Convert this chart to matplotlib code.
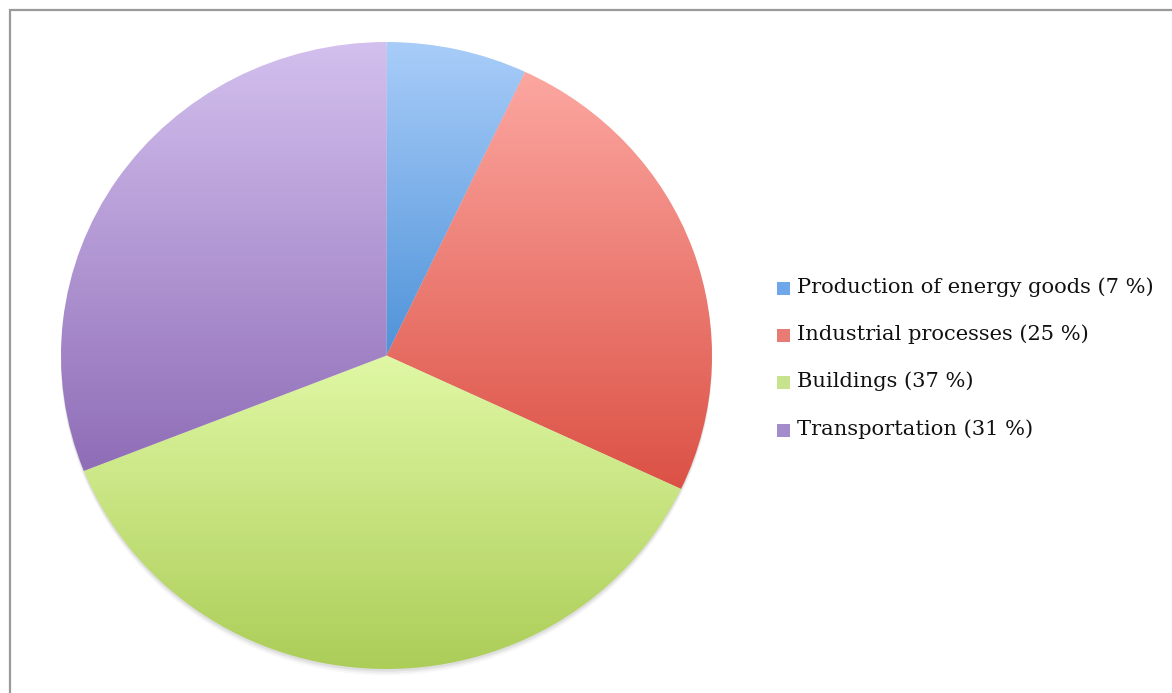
import numpy as np
import matplotlib
matplotlib.use("Agg")
import matplotlib.pyplot as plt
from matplotlib.patches import Rectangle, Ellipse
from matplotlib.colors import LinearSegmentedColormap

# sector shares (%)
sectors = ["Production of energy goods", "Industrial processes", "Buildings", "Transportation"]
shares = [7, 25, 37, 31]

# light (top) / dark (bottom) shade per slice
top_colors = ["#a9cdf9", "#fca7a1", "#e0f8a5", "#d3c0ee"]
bottom_colors = ["#4f93d9", "#dc5145", "#accd58", "#8f6db7"]
key_colors = ["#6ea8ea", "#e87c74", "#c8e38e", "#a48bcb"]

W, H = 1172, 693
fig = plt.figure(figsize=(W / 100, H / 100), dpi=100)
fig.patch.set_facecolor("white")

# chart frame
frame = Rectangle((10 / W, -0.1), 1.2, (H - 10) / H + 0.1, transform=fig.transFigure,
                  fill=False, edgecolor="#9a9a9a", linewidth=1.6)
fig.add_artist(frame)

# pie area (slightly wider than tall)
left, right, top, bottom = 61, 712, 42, 669
ax = fig.add_axes([left / W, (H - bottom) / H, (right - left) / W, (bottom - top) / H])
ax.axis("off")

# soft drop shadow below the pie
for dy, a in [(-0.02, 0.05), (-0.014, 0.08), (-0.008, 0.12)]:
    ax.add_patch(Ellipse((0, dy), 2.0, 2.0, facecolor="#777777",
                         edgecolor="none", alpha=a, zorder=0, clip_on=False))

wedges, _ = ax.pie(shares, startangle=90, counterclock=False, radius=1.0,
                   colors=key_colors, wedgeprops=dict(linewidth=0))

# vertical gradient fill inside each slice
grad = np.linspace(0, 1, 256).reshape(-1, 1)
for w, c0, c1 in zip(wedges, top_colors, bottom_colors):
    ext = w.get_path().get_extents()
    cmap = LinearSegmentedColormap.from_list("g", [c1, c0])
    im = ax.imshow(grad, cmap=cmap, origin="lower", aspect="auto",
                   extent=[ext.x0, ext.x1, ext.y0, ext.y1], zorder=2,
                   interpolation="bilinear")
    im.set_clip_path(w)
    w.set_visible(False)
ax.set_xlim(-1.0, 1.0)
ax.set_ylim(-1.0, 1.0)
ax.set_aspect("auto")

# legend on the right
row_y = [287, 334, 381, 429]
for name, val, col, y in zip(sectors, shares, key_colors, row_y):
    fig.add_artist(Rectangle((777 / W, (H - y - 7.5) / H), 13 / W, 13 / H,
                             transform=fig.transFigure, facecolor=col, edgecolor="none"))
    fig.text(797 / W, (H - y) / H, f"{name} ({val} %)", fontsize=15.1,
             family="DejaVu Serif", va="center", ha="left", color="#111111")

fig.savefig("out.png", dpi=100)
